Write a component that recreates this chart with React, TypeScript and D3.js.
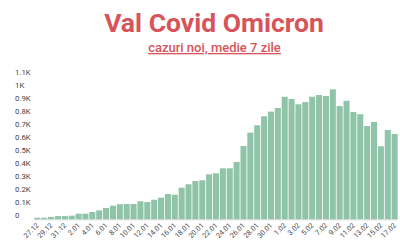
import React from "react";
import * as d3 from "d3";

const dates = [
  "27.12","28.12","29.12","30.12","31.12",
  "1.01","2.01","3.01","4.01","5.01","6.01","7.01","8.01","9.01","10.01",
  "11.01","12.01","13.01","14.01","15.01","16.01","17.01","18.01","19.01","20.01",
  "21.01","22.01","23.01","24.01","25.01","26.01","27.01","28.01","29.01","30.01","31.01",
  "1.02","2.02","3.02","4.02","5.02","6.02","7.02","8.02","9.02","10.02",
  "11.02","12.02","13.02","14.02","15.02","16.02","17.02"
];
const cases = [
  12,12,18,25,25,28,43,43,56,69,
  87,105,116,118,118,139,133,151,167,195,
  190,244,270,295,301,347,355,393,393,442,
  565,668,725,794,830,858,945,928,887,904,
  945,958,951,1002,873,914,827,810,719,750,
  563,688,658
];
const yTicks = [0,100,200,300,400,500,600,700,800,900,1000,1100];
const title = "Val Covid Omicron";
const subtitle = "cazuri noi, medie 7 zile";

const W = 400, H = 250;
const RED = "#d6545a";
const BAR = "#8fc4a8";

function fmtK(v: number) {
  if (v === 0) return "0";
  return `${+(v / 1000).toFixed(1)}K`;
}

export default function App() {
  const x = d3.scaleBand<string>().domain(dates).range([34, 398]).paddingInner(0.12).paddingOuter(0.05);
  const y = d3.scaleLinear().domain([0, 1100]).range([219.3, 219.3 - 1100 * 0.1297]);
  const font = "Roboto, 'Noto Sans', sans-serif";
  return (
    <svg width={W} height={H} style={{ position: "absolute", left: 0, top: 0, background: "#fff" }} fontFamily={font}>
      <text x={214} y={31.5} textAnchor="middle" fontSize={26.5} fontWeight={700} fill={RED}>{title}</text>
      <text x={214.5} y={52} textAnchor="middle" fontSize={13} fontWeight={500} fill={RED} style={{ textDecoration: "underline" }}>{subtitle}</text>
      {yTicks.map((t) => (
        <text key={t} x={15} y={y(t) - 1.2} fontSize={7.8} fill="#444">{fmtK(t)}</text>
      ))}
      <line x1={34} x2={398} y1={y(0) + 0.5} y2={y(0) + 0.5} stroke="#ddd" strokeWidth={1} />
      {cases.map((v, i) => (
        <rect key={i} x={x(dates[i])} y={y(v)} width={x.bandwidth()} height={y(0) - y(v)} fill={BAR} />
      ))}
      {dates.map((d, i) =>
        i % 2 === 0 ? (
          <text
            key={d}
            transform={`translate(${(x(d) as number) + x.bandwidth() / 2 + 2},${y(0) + 6.5}) rotate(-45)`}
            textAnchor="end"
            fontSize={7.2}
            fill="#444"
          >
            {d}
          </text>
        ) : null
      )}
    </svg>
  );
}
